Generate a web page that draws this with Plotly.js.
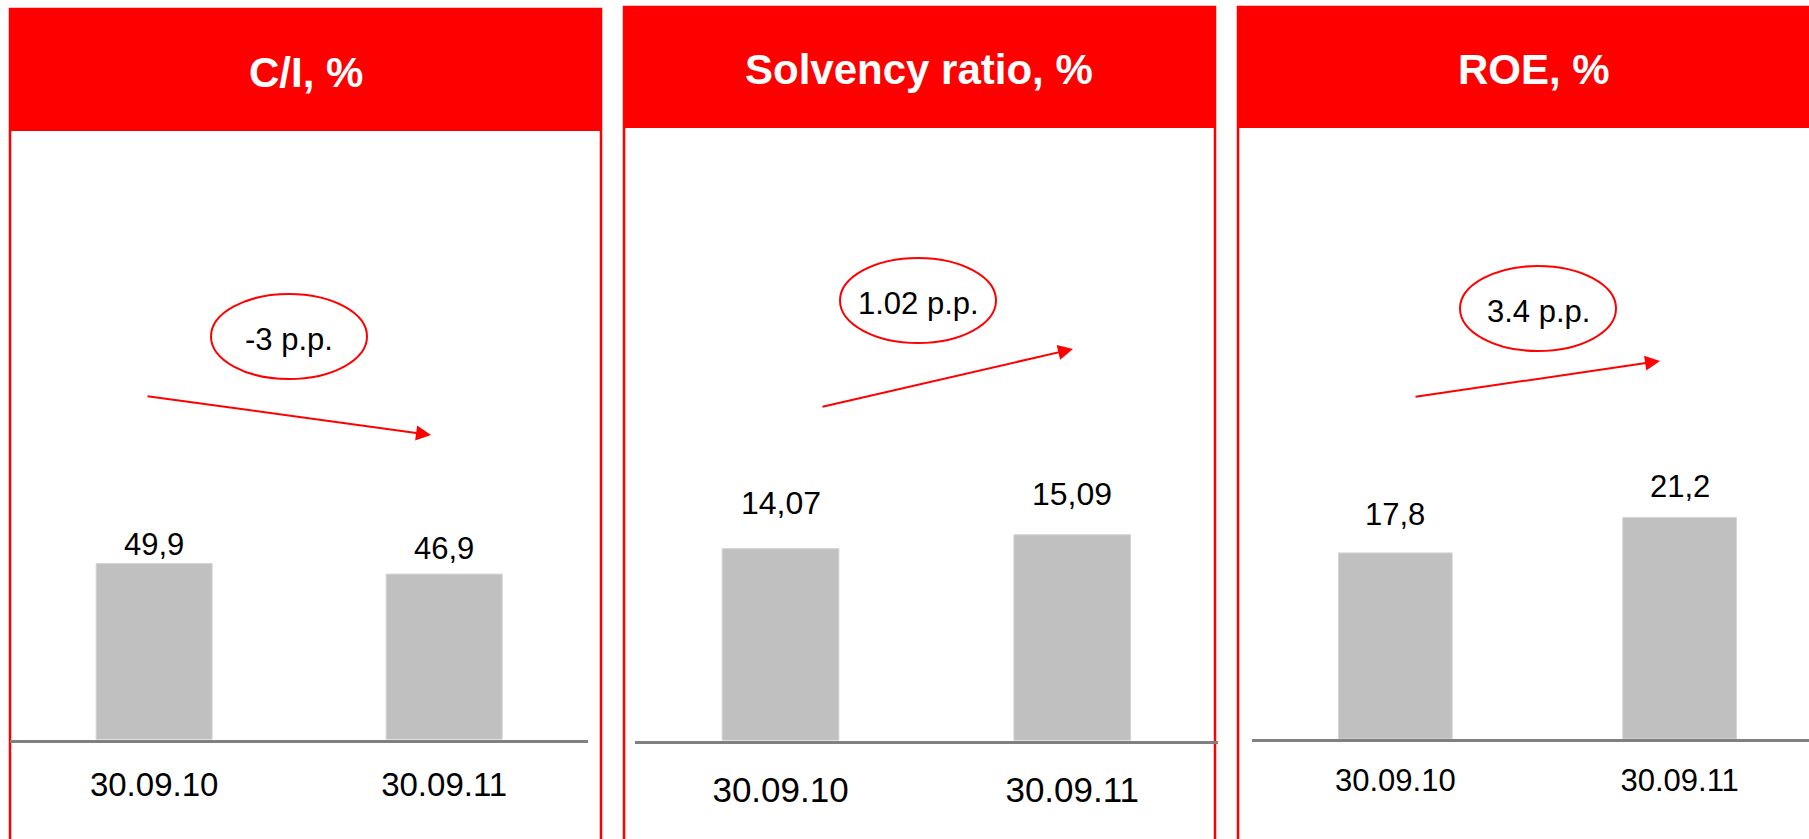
<!DOCTYPE html>
<html>
<head>
<meta charset="utf-8">
<script src="https://cdn.plot.ly/plotly-3.0.1.min.js"></script>
<style>
  html, body { margin: 0; padding: 0; background: #ffffff; }
  #chart { width: 1809px; height: 839px; }
</style>
</head>
<body>
<div id="chart"></div>
<script>
// ---------- DATA ----------
const categories = ['30.09.10', '30.09.11'];
const ciValues = [49.9, 46.9];
const solvencyValues = [14.07, 15.09];
const roeValues = [17.8, 21.2];
const ciLabels = ['49,9', '46,9'];
const solvencyLabels = ['14,07', '15,09'];
const roeLabels = ['17,8', '21,2'];
const panelTitles = ['C/I, %', 'Solvency ratio, %', 'ROE, %'];
const changeLabels = ['-3 p.p.', '1.02 p.p.', '3.4 p.p.'];

// ---------- LAYOUT HELPERS (pixel geometry of the page) ----------
const W = 1809, H = 839;
const PX = p => p / W;
const PY = p => 1 - p / H;
const RED = '#ff0000';
const FONT = 'Arial, "Liberation Sans", Helvetica, sans-serif';

const panels = [
  { values: ciValues, labels: ciLabels,
    box: [10, 601, 9, 131], dom: [10, 588], base: 741, top: 140, pxPerUnit: 3.536,
    range: [-0.497, 1.496], tickSize: 33, tickStandoff: 14, valSize: 31, valShift: [-1, 6],
    titleY: 72, ell: [211, 367, 294, 379], tip: [431, 435], tail: [146, 396] },
  { values: solvencyValues, labels: solvencyLabels,
    box: [624, 1215, 7, 128], dom: [635, 1217.5], base: 742, top: 140, pxPerUnit: 13.67,
    range: [-0.499, 1.498], tickSize: 35, tickStandoff: 16, valSize: 32, valShift: [26, 21],
    titleY: 69, ell: [840, 996, 258, 343], tip: [1073, 349], tail: [821, 407] },
  { values: roeValues, labels: roeLabels,
    box: [1238, 1840, 7, 128], dom: [1252, 1809], base: 740.5, top: 140, pxPerUnit: 10.48,
    range: [-0.504, 1.455], tickSize: 31, tickStandoff: 12, valSize: 31, valShift: [19, 11],
    titleY: 69, ell: [1460, 1616, 266, 351], tip: [1660, 361], tail: [1414, 397] }
];

const data = [];
const shapes = [];
const annotations = [];
const layout = {
  width: W, height: H,
  margin: { l: 0, r: 0, t: 0, b: 0, pad: 0 },
  paper_bgcolor: '#ffffff', plot_bgcolor: 'rgba(0,0,0,0)',
  showlegend: false,
  font: { family: FONT, color: '#000000' },
  bargap: 0.6
};

panels.forEach((p, i) => {
  const n = i === 0 ? '' : String(i + 1);
  const xa = 'x' + n, ya = 'y' + n;

  data.push({
    type: 'bar', x: categories, y: p.values,
    xaxis: xa, yaxis: ya, width: 0.4,
    marker: { color: '#c0c0c0', line: { color: '#d4d4d4', width: 1 } },
    hoverinfo: 'skip'
  });

  const ymax = (p.base - p.top) / p.pxPerUnit;
  layout['xaxis' + n] = {
    domain: [PX(p.dom[0]), PX(p.dom[1])],
    anchor: ya, type: 'category', range: p.range,
    showline: true, linecolor: '#808080', linewidth: 3,
    showgrid: false, zeroline: false, ticks: '',
    ticklabelstandoff: p.tickStandoff,
    tickfont: { family: FONT, size: p.tickSize, color: '#000000' },
    fixedrange: true
  };
  layout['yaxis' + n] = {
    domain: [PY(p.base - 1.5), PY(p.top)],
    anchor: xa, range: [0, ymax], visible: false,
    showgrid: false, zeroline: false, fixedrange: true
  };

  // value labels above bars, positioned through the axes
  p.values.forEach((v, k) => {
    annotations.push({
      xref: xa, yref: ya, x: categories[k], y: v,
      text: p.labels[k], showarrow: false,
      xanchor: 'center', yanchor: 'bottom', yshift: p.valShift[k],
      font: { family: FONT, size: p.valSize, color: '#000000' }
    });
  });

  // panel border and red header
  shapes.push({
    type: 'rect', xref: 'paper', yref: 'paper', layer: 'below',
    x0: PX(p.box[0]), x1: PX(p.box[1]), y0: PY(p.box[2]), y1: PY(H + 30),
    line: { color: RED, width: 2.5 }, fillcolor: 'rgba(0,0,0,0)'
  });
  shapes.push({
    type: 'rect', xref: 'paper', yref: 'paper', layer: 'below',
    x0: PX(p.box[0] - 1), x1: PX(p.box[1] + 1), y0: PY(p.box[2]), y1: PY(p.box[3]),
    line: { width: 0 }, fillcolor: RED
  });
  annotations.push({
    xref: 'paper', yref: 'paper',
    x: PX((p.box[0] + Math.min(p.box[1], 1829)) / 2), y: PY(p.titleY),
    text: '<b>' + panelTitles[i] + '</b>', showarrow: false,
    xanchor: 'center', yanchor: 'middle',
    font: { family: FONT, size: 42, color: '#ffffff' }
  });

  // change ellipse
  shapes.push({
    type: 'circle', xref: 'paper', yref: 'paper',
    x0: PX(p.ell[0]), x1: PX(p.ell[1]), y0: PY(p.ell[2]), y1: PY(p.ell[3]),
    line: { color: RED, width: 2 }, fillcolor: 'rgba(0,0,0,0)'
  });
  annotations.push({
    xref: 'paper', yref: 'paper',
    x: PX((p.ell[0] + p.ell[1]) / 2), y: PY((p.ell[2] + p.ell[3]) / 2 + 3),
    text: changeLabels[i], showarrow: false,
    xanchor: 'center', yanchor: 'middle',
    font: { family: FONT, size: 31, color: '#000000' }
  });

  // trend arrow
  annotations.push({
    xref: 'paper', yref: 'paper',
    x: PX(p.tip[0]), y: PY(p.tip[1]),
    ax: p.tail[0] - p.tip[0], ay: p.tail[1] - p.tip[1],
    text: '', showarrow: true,
    arrowhead: 2, arrowsize: 1.5, arrowwidth: 2, arrowcolor: RED,
    standoff: 0, startstandoff: 0
  });
});

layout.shapes = shapes;
layout.annotations = annotations;

Plotly.newPlot('chart', data, layout, { staticPlot: true, displayModeBar: false });
</script>
</body>
</html>
